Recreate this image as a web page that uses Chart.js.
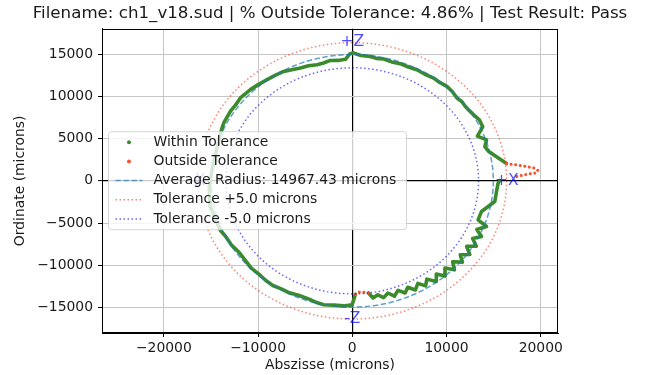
<!DOCTYPE html>
<html>
<head>
<meta charset="utf-8">
<script src="https://cdn.jsdelivr.net/npm/chart.js@4.4.1/dist/chart.umd.min.js"></script>
<style>
  html, body { margin: 0; padding: 0; background: #fff; }
  #wrap { width: 646px; height: 375px; }
</style>
</head>
<body>
<div id="wrap"><canvas id="chart" width="646" height="375"></canvas></div>
<script>
const chartTitle = 'Filename: ch1_v18.sud | % Outside Tolerance: 4.86% | Test Result: Pass';
const xRange = [-26560, 21830];
const yRange = [-18030, 18030];
const xTicks = [-20000, -10000, 0, 10000, 20000];
const yTicks = [-15000, -10000, -5000, 0, 5000, 10000, 15000];

// measured profile, polar form: angle (deg, ccw from +X) and radius (microns)
// null splits the trace where points fall outside tolerance
const withinAngles = [7.13, 10.0, 13.5, 16.1, 18.8, 21.8, 24.8, 28.2, 31.4, 33.8, 36.4, 39.0, 41.5, 44.8, 48.1,
  51.5, 54.7, 58.6, 62.5, 66.2, 69.9, 73.5, 77.0, 80.0, 82.6, 86.5, 89.6, 91.0, 92.9, 96.0, 99.3, 102.3,
  105.2, 108.8, 112.4, 116.0, 119.3, 123.0, 127.0, 131.0, 135.0, 140.4, 144.0, 147.5, 153.3, 155.6, 160.0,
  164.0, 168.8, 175.0, 182.0, 186.0, 191.4, 197.0, 202.7, 206.5, 210.9, 215.0, 219.8, 224.0, 228.1, 232.0,
  235.8, 239.5, 243.3, 247.5, 252.2, 255.0, 258.3, 262.5, 266.4, 269.9, 270.6, 271.4, null,
  277.4, 279.0, 281.3, 283.5, 285.9, 288.1, 290.5, 292.9, 295.0, 297.4, 299.8, 302.0, 304.2, 306.7, 308.9,
  311.1, 313.6, 315.8, 318.0, 320.5, 322.6, 325.0, 327.4, 329.5, 331.9, 334.3, 336.4, 339.2, 340.9, 345.2,
  350.8, 355.3, 359.0, 360.13];
const withinRadii = [16493, 15700, 14900, 14640, 15049, 14300, 15250, 15300, 15064, 14950, 14883, 14950, 14820, 14980, 15038,
  14900, 14926, 14800, 14845, 14750, 14784, 14700, 14812, 14740, 14868, 14880, 15170, 15050, 14420, 14350, 14459, 14300,
  14262, 14400, 14461, 14650, 14874, 14950, 15022, 15150, 15288, 15413, 15300, 15341, 15268, 15176, 15000,
  14900, 14830, 14950, 15150, 15250, 15380, 15200, 15180, 14950, 14900, 14700, 14750, 14900, 14850, 14950,
  15000, 14850, 14850, 14700, 14750, 14900, 15000, 14850, 14850, 14700, 14100, 13450, null,
  13400, 14050, 13780, 14230, 13820, 14380, 13850, 14420, 13920, 14560, 14000, 14680, 14080, 14870, 14200,
  14980, 14250, 15120, 14330, 15150, 14420, 15230, 14400, 15280, 14480, 15220, 14420, 15238, 14130, 14188,
  15321, 15357, 15477, 15650];

const outsideAngles = [7.13, 6.20, 5.23, 4.44, 3.54, 2.70, 2.43, 1.91, 1.47, null, 271.4, 272.9, 275.2, 277.4];
const outsideRadii = [16493, 17528, 18562, 19422, 19752, 19385, 18671, 17784, 17070, null, 13450, 13200, 13260, 13400];

const averageRadius = 14967.43;
const tolerancePlusRadius = 16380;
const toleranceMinusRadius = 13400;

const axisMarkLabels = ['+X', '+Z', '-X', '-Z'];
const axisMarkAngles = [0, 90, 180, 270];
const axisMarkRadius = 16400;

const legendLabels = ['Within Tolerance', 'Outside Tolerance', 'Average Radius: ' + averageRadius + ' microns',
  'Tolerance +5.0 microns', 'Tolerance -5.0 microns'];

const font = 'DejaVu Sans';
const green = '#3b8b2b';
const orange = '#f25530';
const avgColor = 'rgba(31,119,180,0.7)';
const plusColor = 'rgba(255,30,0,0.55)';
const minusColor = 'rgba(0,0,255,0.6)';

function toPoints(angles, radii) {
  return angles.map((a, i) => {
    if (a === null) return {x: null, y: null};
    const t = a * Math.PI / 180;
    return {x: radii[i] * Math.cos(t), y: radii[i] * Math.sin(t)};
  });
}

function fmt(v) {
  return v < 0 ? '\u2212' + Math.abs(v) : String(v);
}

const overlay = {
  id: 'overlay',
  afterDatasetsDraw(chart) {
    const {ctx, chartArea: a, scales: {x, y}} = chart;
    const cx = x.getPixelForValue(0), cy = y.getPixelForValue(0);
    const circles = [
      [averageRadius, avgColor, [5.5, 2.5]],
      [tolerancePlusRadius, plusColor, [1.5, 2.5]],
      [toleranceMinusRadius, minusColor, [1.5, 2.5]]
    ];
    ctx.save();
    ctx.beginPath();
    ctx.rect(a.left, a.top, a.width, a.height);
    ctx.clip();
    for (const [r, col, dash] of circles) {
      ctx.beginPath();
      ctx.ellipse(cx, cy, x.getPixelForValue(r) - cx, cy - y.getPixelForValue(r), 0, 0, 2 * Math.PI);
      ctx.setLineDash(dash);
      ctx.lineWidth = 1.5;
      ctx.strokeStyle = col;
      ctx.stroke();
    }
    ctx.setLineDash([]);
    ctx.fillStyle = 'rgba(0,0,255,0.7)';
    ctx.font = '15.5px "' + font + '"';
    ctx.textAlign = 'center';
    ctx.textBaseline = 'middle';
    axisMarkLabels.forEach((lab, i) => {
      const t = axisMarkAngles[i] * Math.PI / 180;
      ctx.fillText(lab, x.getPixelForValue(axisMarkRadius * Math.cos(t)), y.getPixelForValue(axisMarkRadius * Math.sin(t)));
    });
    ctx.restore();
    // top and right spines
    ctx.save();
    ctx.strokeStyle = '#000';
    ctx.lineWidth = 1;
    ctx.strokeRect(Math.round(a.left) + 0.5, Math.round(a.top) + 0.5, Math.round(a.width) - 1, Math.round(a.height) - 1);
    ctx.restore();
  },
  afterDraw(chart) {
    const {ctx, chartArea: a} = chart;
    // title, centred over the plot area but allowed to run wider than it
    ctx.save();
    ctx.font = '16.67px "' + font + '"';
    ctx.fillStyle = '#1a1a1a';
    ctx.textAlign = 'center';
    ctx.textBaseline = 'middle';
    ctx.fillText(chartTitle, (a.left + a.right) / 2, 14);
    ctx.restore();

    const bx = a.left + 6.5, by = a.top + 103, bw = 298, bh = 98;
    ctx.save();
    ctx.beginPath();
    ctx.roundRect(bx, by, bw, bh, 3);
    ctx.fillStyle = 'rgba(255,255,255,0.8)';
    ctx.fill();
    ctx.strokeStyle = 'rgba(204,204,204,0.8)';
    ctx.lineWidth = 1;
    ctx.stroke();
    ctx.font = '13.9px "' + font + '"';
    ctx.textBaseline = 'middle';
    ctx.textAlign = 'left';
    legendLabels.forEach((lab, i) => {
      const ry = by + 10.5 + i * 19.2;
      const hx = bx + 7, hw = 27;
      if (i < 2) {
        ctx.beginPath();
        ctx.arc(hx + hw / 2, ry, 2, 0, 2 * Math.PI);
        ctx.fillStyle = i === 0 ? green : orange;
        ctx.fill();
      } else {
        const st = [[avgColor, [5.5, 2.5]], [plusColor, [1.5, 2.5]], [minusColor, [1.5, 2.5]]][i - 2];
        ctx.beginPath();
        ctx.moveTo(hx, ry);
        ctx.lineTo(hx + hw, ry);
        ctx.setLineDash(st[1]);
        ctx.strokeStyle = st[0];
        ctx.lineWidth = 1.5;
        ctx.stroke();
        ctx.setLineDash([]);
      }
      ctx.fillStyle = '#1a1a1a';
      ctx.fillText(lab, bx + 45, ry);
    });
    ctx.restore();
  }
};

const gridColor = c => c.tick && c.tick.value === 0 ? '#000' : '#c6c6c6';
const gridWidth = c => c.tick && c.tick.value === 0 ? 1.2 : 1;

new Chart('chart', {
  type: 'scatter',
  data: {
    datasets: [
      {
        label: legendLabels[1],
        data: toPoints(outsideAngles, outsideRadii),
        showLine: true,
        spanGaps: false,
        borderColor: orange,
        borderWidth: 3,
        borderDash: [0.1, 4.5],
        borderCapStyle: 'round',
        pointRadius: 0,
        order: 1
      },
      {
        label: legendLabels[0],
        data: toPoints(withinAngles, withinRadii),
        showLine: true,
        spanGaps: false,
        borderColor: green,
        borderWidth: 3.6,
        borderJoinStyle: 'round',
        borderCapStyle: 'round',
        pointRadius: 0,
        order: 2
      }
    ]
  },
  options: {
    responsive: false,
    animation: false,
    devicePixelRatio: 1,
    layout: { padding: { left: 0, right: 88, top: 28.7, bottom: 0 } },
    plugins: {
      legend: { display: false },
      tooltip: { enabled: false },
      title: { display: false }
    },
    scales: {
      x: {
        type: 'linear',
        min: xRange[0],
        max: xRange[1],
        afterBuildTicks: s => { s.ticks = xTicks.map(v => ({ value: v })); },
        afterFit: s => { s.height = 42; },
        ticks: { callback: fmt, color: '#1a1a1a', font: { family: font, size: 13.9 }, padding: 3, maxRotation: 0 },
        grid: { color: gridColor, lineWidth: gridWidth, tickColor: '#000', tickLength: 4, tickWidth: 1 },
        border: { display: true, color: '#000', width: 1 },
        title: { display: true, text: 'Abszisse (microns)', color: '#1a1a1a', font: { family: font, size: 13.9 }, padding: { top: 0, bottom: 1 } }
      },
      y: {
        type: 'linear',
        min: yRange[0],
        max: yRange[1],
        afterBuildTicks: s => { s.ticks = yTicks.map(v => ({ value: v })); },
        afterFit: s => { s.width = 102; },
        ticks: { callback: fmt, color: '#1a1a1a', font: { family: font, size: 13.9 }, padding: 5 },
        grid: { color: gridColor, lineWidth: gridWidth, tickColor: '#000', tickLength: 4, tickWidth: 1 },
        border: { display: true, color: '#000', width: 1 },
        title: { display: true, text: 'Ordinate (microns)', color: '#1a1a1a', font: { family: font, size: 13.9 }, padding: { top: 12, bottom: 0 } }
      }
    }
  },
  plugins: [overlay]
});
</script>
</body>
</html>
